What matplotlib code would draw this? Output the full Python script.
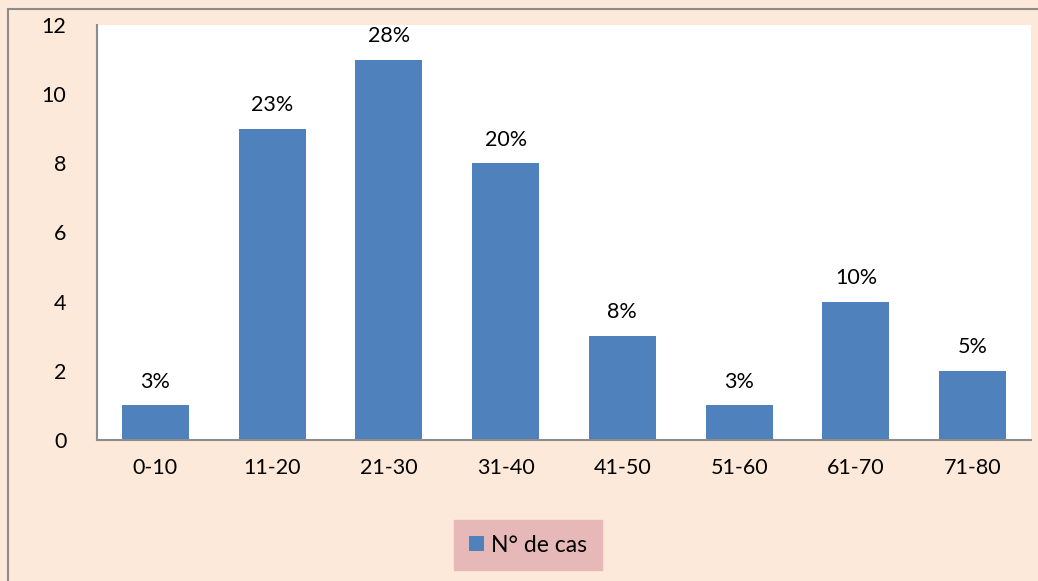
import matplotlib
matplotlib.use("Agg")
import matplotlib.pyplot as plt
from matplotlib.patches import Rectangle

categories = ["0-10", "11-20", "21-30", "31-40", "41-50", "51-60", "61-70", "71-80"]
values = [1, 9, 11, 8, 3, 1, 4, 2]
labels = ["3%", "23%", "28%", "20%", "8%", "3%", "10%", "5%"]
series_name = "N° de cas"

plt.rcParams['font.family'] = ['Lato', 'DejaVu Sans']
W, H = 1038, 581
fig = plt.figure(figsize=(W/100, H/100), dpi=100)
fig.patch.set_facecolor('#FDE9D9')
fig.patches.append(Rectangle((8/W, -0.1), 1.2, 1 - 9/H + 0.1, transform=fig.transFigure,
                             fill=False, edgecolor='#8C8C8C', linewidth=1.5))

ax = fig.add_axes([97/W, (H-440)/H, 934/W, 415/H])
ax.set_facecolor('white')
x = range(len(categories))
bars = ax.bar(x, values, width=0.575, color='#4F81BD', label=series_name, zorder=2)
for xi, v, lab in zip(x, values, labels):
    ax.text(xi, v + 0.4, lab, ha='center', va='bottom', fontsize=15.5, color='black')
ax.set_xlim(-0.5, len(categories) - 0.5)
ax.set_ylim(0, 12)
ax.set_yticks(range(0, 13, 2))
ax.set_xticks(list(x))
ax.set_xticklabels(categories)
ax.tick_params(axis='both', length=0, labelsize=15.5, colors='black')
ax.tick_params(axis='y', pad=22)
ax.tick_params(axis='x', pad=13)
for s in ['top', 'right']:
    ax.spines[s].set_visible(False)
for s in ['left', 'bottom']:
    ax.spines[s].set_color('#8C8C8C')
    ax.spines[s].set_linewidth(1.5)

leg = fig.legend(handles=[bars], labels=[series_name], loc='center',
                 bbox_to_anchor=(528/W, 1 - 545/H), frameon=True, fontsize=16.5,
                 handlelength=0.65, handleheight=0.65, handletextpad=0.3,
                 borderpad=0.65, borderaxespad=0, fancybox=False)
leg.get_frame().set_facecolor('#E6B9B8')
leg.get_frame().set_edgecolor('#E6B9B8')
leg.get_frame().set_alpha(1)

fig.savefig("out.png", dpi=100, facecolor=fig.get_facecolor())
